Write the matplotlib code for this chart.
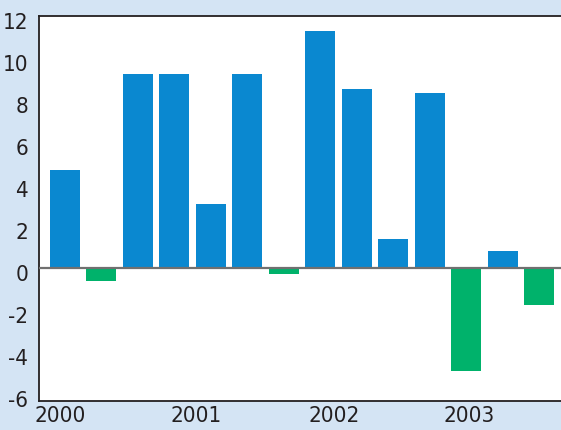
import numpy as np
import matplotlib
matplotlib.use("Agg")
import matplotlib.pyplot as plt
from matplotlib.transforms import ScaledTranslation

# quarterly change values
values = [4.69, -0.59, 9.25, 9.25, 3.07, 9.25, -0.29, 11.30, 8.54, 1.40, 8.35, -4.88, 0.83, -1.74]
year_labels = ["2000", "2001", "2002", "2003"]
year_pos = [-0.14, 3.59, 7.37, 11.07]
y_ticks = [-6, -4, -2, 0, 2, 4, 6, 8, 10, 12]

blue = "#0A88D0"
green = "#00B26B"
bg = "#D4E4F4"

plt.rcParams['font.family'] = ['DejaVu Sans']
plt.rcParams['font.stretch'] = 'condensed'

fig = plt.figure(figsize=(5.61, 4.31), dpi=100, facecolor=bg)
ax = fig.add_axes([0.070, 0.068, 0.930, 0.892])
ax.set_facecolor("white")

x = np.arange(len(values))
colors = [blue if v >= 0 else green for v in values]
ax.bar(x, values, width=0.82, color=colors, zorder=2)
ax.axhline(0, color="#707070", lw=1.6, zorder=3)

ax.set_xlim(-0.70, 13.6)
ax.set_ylim(-6.3, 12)
ax.set_yticks(y_ticks)
ax.set_yticklabels([str(t) for t in y_ticks], fontstretch='condensed')
ax.set_xticks(year_pos)
ax.set_xticklabels(year_labels, fontstretch='condensed')
ax.tick_params(axis="both", length=0, labelsize=16, colors="#231F20")
ax.tick_params(axis="y", pad=8)
ax.tick_params(axis="x", pad=3)

# labels sit a little below their tick positions in the original
shift = ScaledTranslation(0, -4 / 100, fig.dpi_scale_trans)
for lab in ax.get_yticklabels():
    lab.set_transform(lab.get_transform() + shift)

for side in ["left", "top", "bottom"]:
    ax.spines[side].set_color("#231F20")
    ax.spines[side].set_linewidth(1.3)
ax.spines["right"].set_visible(False)

fig.savefig("out.png", dpi=100, facecolor=bg)
